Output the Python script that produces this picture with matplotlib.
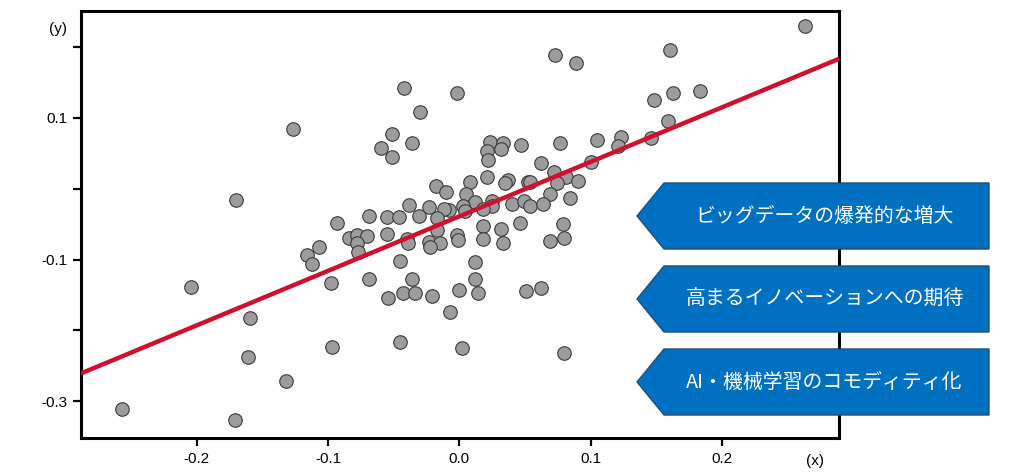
import numpy as np
import matplotlib
matplotlib.use("Agg")
import matplotlib.pyplot as plt
from matplotlib.patches import Polygon

plt.rcParams['font.family'] = ['Liberation Sans', 'Noto Sans CJK JP', 'DejaVu Sans']

# scatter values
x_vals = [
    0.263, 0.160, 0.073, 0.089, -0.042, -0.002, 0.163, 0.183, 0.148, -0.030,
    0.159, -0.127, -0.051, -0.036, -0.060, -0.051, 0.105, 0.123, 0.121, 0.146,
    0.023, 0.033, 0.032, 0.047, 0.077, 0.021, 0.022, 0.062, 0.100, 0.072,
    0.081, 0.074, 0.090, 0.021, 0.008, 0.037, 0.035, 0.052, 0.054, -0.018,
    -0.010, 0.005, 0.069, 0.084, -0.170, -0.038, -0.023, 0.012, 0.025, 0.025,
    0.040, 0.049, 0.054, 0.064, 0.003, 0.004, -0.008, -0.012, 0.018, -0.031,
    -0.017, -0.069, -0.055, -0.046, -0.093, 0.046, 0.079, 0.018, 0.032, -0.017,
    -0.084, -0.078, -0.070, -0.078, -0.055, -0.040, -0.039, -0.023, -0.015, -0.022,
    -0.002, -0.001, 0.018, 0.033, 0.069, 0.080, -0.107, -0.116, -0.112, -0.077,
    -0.045, 0.012, -0.098, -0.069, -0.036, -0.043, -0.034, -0.054, -0.021, 0.000,
    0.012, 0.014, 0.051, 0.062, -0.007, -0.204, -0.159, -0.161, -0.097, -0.045,
    0.002, 0.080, -0.132, -0.257, -0.171,
]
y_vals = [
    0.230, 0.196, 0.189, 0.178, 0.142, 0.135, 0.135, 0.138, 0.125, 0.108,
    0.096, 0.084, 0.078, 0.065, 0.057, 0.045, 0.069, 0.073, 0.060, 0.072,
    0.066, 0.064, 0.056, 0.062, 0.065, 0.053, 0.040, 0.036, 0.038, 0.024,
    0.017, 0.008, 0.011, 0.017, 0.009, 0.012, 0.008, 0.010, 0.010, 0.004,
    -0.004, -0.007, -0.008, -0.013, -0.016, -0.023, -0.026, -0.019, -0.017, -0.024,
    -0.021, -0.018, -0.024, -0.021, -0.024, -0.032, -0.030, -0.029, -0.028, -0.039,
    -0.042, -0.038, -0.040, -0.040, -0.048, -0.049, -0.050, -0.053, -0.057, -0.058,
    -0.069, -0.066, -0.067, -0.076, -0.064, -0.071, -0.077, -0.075, -0.077, -0.082,
    -0.066, -0.072, -0.071, -0.076, -0.074, -0.069, -0.082, -0.094, -0.106, -0.090,
    -0.102, -0.104, -0.133, -0.128, -0.127, -0.147, -0.147, -0.154, -0.152, -0.143,
    -0.127, -0.147, -0.145, -0.140, -0.174, -0.139, -0.183, -0.238, -0.224, -0.216,
    -0.225, -0.232, -0.272, -0.311, -0.326,
]

# regression line as drawn in the reference
fit_slope = 0.770
fit_intercept = -0.039

x_ticks = [-0.2, -0.1, 0.0, 0.1, 0.2]
x_tick_labels = ['-0.2', '-0.1', '0.0', '0.1', '0.2']
y_ticks = [-0.3, -0.2, -0.1, 0.0, 0.1, 0.2]
y_tick_labels = ['-0.3', '', '-0.1', '', '0.1', '']

box_labels = [
    'ビッグデータの爆発的な増大',
    '高まるイノベーションへの期待',
    'AI・機械学習のコモディティ化',
]

W, H = 1030, 475
fig = plt.figure(figsize=(W / 100, H / 100), dpi=100)
ax = fig.add_axes([81 / W, 1 - 438 / H, (839 - 81) / W, (438 - 11) / H])

ax.scatter(x_vals, y_vals, s=95, color='#9c9c9c', edgecolor='#3a3a3a',
           linewidth=0.8, zorder=2, clip_on=False)

xlim = (-0.288, 0.289)
ax.set_xlim(xlim)
ax.set_ylim(-0.352, 0.251)
line_x = np.array(xlim)
ax.plot(line_x, fit_intercept + fit_slope * line_x, color='#d0102e',
        linewidth=3.2, zorder=3, solid_capstyle='butt')

ax.set_xticks(x_ticks)
ax.set_xticklabels(x_tick_labels)
ax.set_yticks(y_ticks)
ax.set_yticklabels(y_tick_labels)
ax.tick_params(direction='out', length=6, width=1.6, labelsize=11,
               colors='black', pad=4)
for sp in ax.spines.values():
    sp.set_linewidth(2.2)
    sp.set_color('black')

fig.text(58 / W, 1 - 29 / H, '(y)', fontsize=11, ha='center', va='center')
fig.text(815 / W, 1 - 461 / H, '(x)', fontsize=11, ha='center', va='center')

# arrow-shaped label boxes, drawn in pixel space over the plot
over = fig.add_axes([0, 0, 1, 1], facecolor='none')
over.set_xlim(0, W)
over.set_ylim(H, 0)
over.axis('off')
tops = [183, 266, 349]
box_h = 66
tip_x, notch_x, right_x = 637, 664, 989
for top, label in zip(tops, box_labels):
    bot = top + box_h
    mid = (top + bot) / 2
    poly = Polygon([(tip_x, mid), (notch_x, top), (right_x, top),
                    (right_x, bot), (notch_x, bot)], closed=True,
                   facecolor='#0070c0', edgecolor='#1f4e79', linewidth=1.0,
                   zorder=5)
    over.add_patch(poly)
    over.text((notch_x + right_x) / 2 - 2, mid, label, color='white',
              fontsize=14.3, ha='center', va='center', zorder=6,
              family=['Noto Sans CJK JP', 'DejaVu Sans'])

fig.savefig('out.png', dpi=100)
